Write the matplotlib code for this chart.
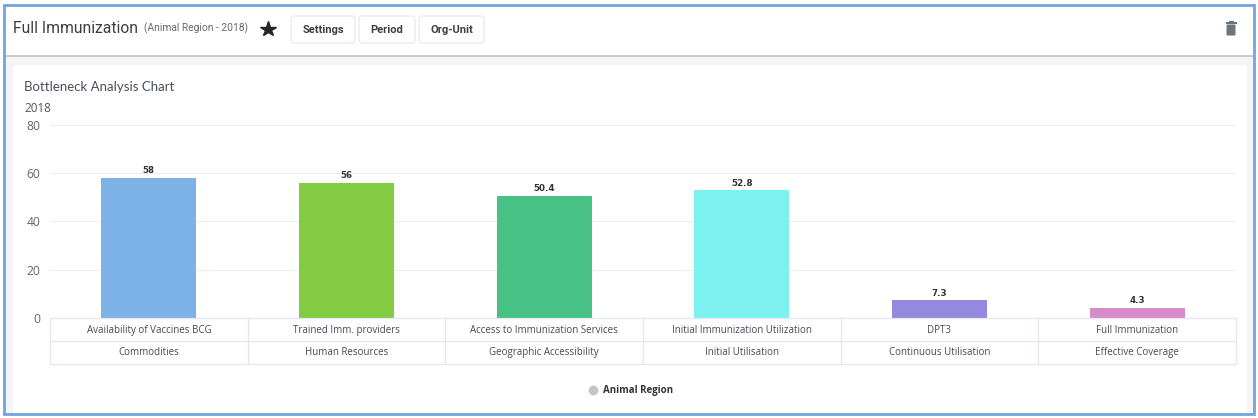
import matplotlib
matplotlib.use("Agg")
import matplotlib.pyplot as plt
from matplotlib.patches import Rectangle, FancyBboxPatch

W, H = 1258, 418

indicators = ["Availability of Vaccines BCG", "Trained Imm. providers", "Access to Immunization Services",
              "Initial Immunization Utilization", "DPT3", "Full Immunization"]
groups = ["Commodities", "Human Resources", "Geographic Accessibility",
          "Initial Utilisation", "Continuous Utilisation", "Effective Coverage"]
values = [58, 56, 50.4, 52.8, 7.3, 4.3]
colors = ["#7cb2e6", "#83cc41", "#47c184", "#7cf2f0", "#9589df", "#d98ac9"]
yticks = [0, 20, 40, 60, 80]
buttons = ["Settings", "Period", "Org-Unit"]

plt.rcParams['font.family'] = ['Open Sans', 'DejaVu Sans']

fig = plt.figure(figsize=(W / 100, H / 100), dpi=100, facecolor='white')

# page furniture, drawn in pixel coordinates
bg = fig.add_axes([0, 0, 1, 1], zorder=0)
bg.set_xlim(0, W)
bg.set_ylim(H, 0)
bg.axis('off')

bg.add_patch(Rectangle((4, 56), 1250, 357, fc='#f3f4f6', ec='none'))
bg.add_patch(FancyBboxPatch((13, 65), 1234, 352, boxstyle='round,pad=0,rounding_size=3', fc='white', ec='none'))
bg.plot([5, 1253], [55.5, 55.5], color='#c4c7ca', lw=1.3)
bg.add_patch(Rectangle((4, 4.5), 1249.5, 409, fc='none', ec='#6fa6dc', lw=2, zorder=5))

bg.text(13, 28.5, "Full Immunization", fontsize=11.3, color='#3a3f44', va='center', family='Roboto')
bg.text(144, 28, "(Animal Region - 2018)", fontsize=7.4, color='#666a6e', va='center', family='Roboto')
bg.plot([268], [28.5], marker='*', ms=11.5, color='#23272b', mec='#23272b', mew=1)

for label, x0, x1 in zip(buttons, [291, 359, 419], [355, 415, 484]):
    bg.add_patch(FancyBboxPatch((x0, 16), x1 - x0, 27, boxstyle='round,pad=0,rounding_size=3',
                                fc='white', ec='#e9ebed', lw=1))
    bg.text((x0 + x1) / 2, 30, label, fontsize=8, color='#3a3f44', ha='center', va='center',
            family='Roboto', fontweight='bold')

# trash icon
bg.add_patch(FancyBboxPatch((1226.5, 24.5), 9, 11, boxstyle='round,pad=0,rounding_size=1', fc='#6c757d', ec='none'))
bg.add_patch(Rectangle((1225.5, 21.8), 11.5, 1.8, fc='#6c757d', ec='none'))
bg.add_patch(Rectangle((1229, 20.5), 4.5, 1.5, fc='#6c757d', ec='none'))

bg.text(24, 87, "Bottleneck Analysis Chart", fontsize=9.5, color='#4a4f5c', va='center', family='Lato')
bg.text(24, 109, "2018", fontsize=8.4, color='#4f545a', va='center')

# chart
left, right, top, bottom = 50, 1236, 124.5, 318
ax = fig.add_axes([left / W, 1 - bottom / H, (right - left) / W, (bottom - top) / H], zorder=1)
ax.patch.set_alpha(0)
x = list(range(len(values)))
bars = ax.bar(x, values, width=0.48, color=colors, zorder=3)
ax.bar_label(bars, labels=[f"{v:g}" for v in values], padding=2, fontsize=6.3, fontweight='bold',
             color='#333333', family='DejaVu Sans')
ax.set_xlim(-0.5, 5.5)
ax.set_ylim(0, 80)
ax.set_yticks(yticks)
ax.tick_params(axis='y', length=0, pad=7, labelsize=8.7, labelcolor='#666666')
ax.set_xticks([])
ax.grid(axis='y', color='#eceef3', lw=0.8, zorder=0)
for spine in ax.spines.values():
    spine.set_visible(False)

# two row category table under the bars
tb = fig.add_axes([left / W, 1 - 363.5 / H, (right - left) / W, 45.5 / H], zorder=2)
tb.set_xlim(-0.5, 5.5)
tb.set_ylim(2, 0)
tb.axis('off')
for y in [0, 1, 2]:
    tb.plot([-0.5, 5.5], [y, y], color='#e2e6f5', lw=0.9, clip_on=False)
for i in range(7):
    tb.plot([i - 0.5, i - 0.5], [0, 2], color='#e2e6f5', lw=0.9, clip_on=False)
for i, (a, b) in enumerate(zip(indicators, groups)):
    tb.text(i, 0.55, a, fontsize=7, color='#444a55', ha='center', va='center')
    tb.text(i, 1.5, b, fontsize=7, color='#444a55', ha='center', va='center')

# legend
bg.plot([592.5], [389.5], marker='o', ms=7, color='#c4c4c4', mec='none')
bg.text(603, 390, "Animal Region", fontsize=7, fontweight='bold', color='#333333', va='center')

fig.savefig("out.png", dpi=100)
plt.close()
